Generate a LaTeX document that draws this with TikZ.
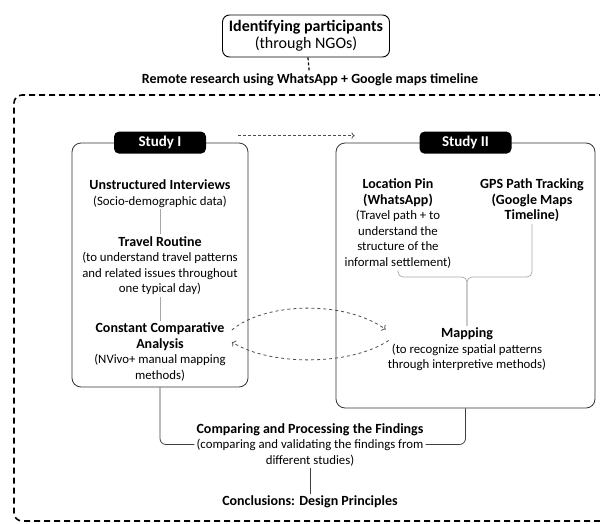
\documentclass[tikz,border=0pt]{standalone}
\usepackage{fontspec}
\setmainfont{Carlito}
\usetikzlibrary{arrows.meta,positioning,calc}
\newcommand{\ttl}[1]{{\fontsize{14}{15.5}\selectfont\bfseries #1}}

\begin{document}
\begin{tikzpicture}[x=1pt,y=-1pt,
    txt/.style={align=center, font=\fontsize{12.8}{15.5}\selectfont, inner sep=2pt},
    studybox/.style={draw=black!80, rounded corners=9pt, line width=0.8pt},
    badge/.style={fill=black, rounded corners=5pt, text=white, font=\fontsize{15}{17}\selectfont\bfseries, minimum width=92pt, minimum height=22pt},
    link/.style={draw=black!35, line width=0.7pt},
    flow/.style={draw=black!75, line width=0.8pt, rounded corners=6pt},
    swap/.style={dashed, draw=black!70, line width=0.8pt, ->}]
        \useasboundingbox (0,0) rectangle (600,523);

        % Outer frame: remote research
        \draw[line width=1.6pt, dash pattern=on 6pt off 4pt, rounded corners=8pt]
            (605,95) -- (14,95) -- (14,521) -- (605,521);

        % Start
        \node[txt, draw, rounded corners=7pt, line width=0.9pt, minimum width=167pt, minimum height=42pt,
              font=\fontsize{16}{17}\selectfont] (ident) at (306,36) {\textbf{Identifying participants}\\(through NGOs)};
        \node[txt, font=\fontsize{14}{15}\selectfont\bfseries] (remote) at (310,80) {Remote research using WhatsApp + Google maps timeline};
        \draw[line width=1.2pt, dash pattern=on 3pt off 2pt] (ident) -- (remote);

        % Study I
        \node[studybox, minimum width=176pt, minimum height=244pt] (study1) at (160,265) {};
        \node[badge] (badge1) at (study1.north) {Study I};
        \node[txt] (interviews) at (160,193.5) {\ttl{Unstructured Interviews}\\(Socio-demographic data)};
        \node[txt] (routine) at (160,265.5) {\ttl{Travel Routine}\\(to understand travel patterns\\and related issues throughout\\one typical day)};
        \node[txt] (constant) at (160,352) {\ttl{Constant Comparative}\\\ttl{Analysis}\\(NVivo+ manual mapping\\methods)};
        \draw[link] (interviews) -- (routine);
        \draw[link] (routine) -- (constant);

        % Study II
        \node[studybox, minimum width=259pt, minimum height=265pt] (study2) at (465.5,275.5) {};
        \node[badge] (badge2) at (study2.north) {Study II};
        \node[txt] (pin) at (398,223.5) {\ttl{Location Pin}\\\ttl{(WhatsApp)}\\(Travel path + to\\understand the\\structure of the\\informal settlement)};
        \node[txt] (gps) at (532,200.5) {\ttl{GPS Path Tracking}\\\ttl{(Google Maps}\\\ttl{Timeline)}};
        \node[txt] (mapping) at (467,349.5) {\ttl{Mapping}\\(to recognize spatial patterns\\through interpretive methods)};
        \coordinate (brace) at (mapping.north |- 0,277);
        \draw[link, rounded corners=5pt] (pin.south) |- (brace) -- (mapping.north);
        \draw[link, rounded corners=5pt] (gps.south) |- (brace) -- (mapping.north);

        % From study I to study II
        \draw[densely dashed, draw=black!70, line width=0.7pt, ->]
            ([xshift=-10pt,yshift=7pt]study1.north east) -- ([xshift=19pt,yshift=7pt]study2.north west);

        % Exchange between the analyses
        \draw[swap] ([xshift=4pt,yshift=22pt]constant.east) .. controls (265,302) and (345,300) .. ([xshift=0pt,yshift=20pt]mapping.west);
        \draw[swap] ([xshift=3pt,yshift=9pt]mapping.west) .. controls (350,366) and (270,366) .. ([xshift=4pt,yshift=10pt]constant.east);

        % Findings
        \node[txt] (compare) at (310,444.5) {\ttl{Comparing and Processing the Findings}\\(comparing and validating the findings from\\different studies)};
        \node[txt, font=\fontsize{14}{15}\selectfont\bfseries] (concl) at (310,502) {Conclusions: Design Principles};
        \draw[flow] (study1.south) |- (compare.west);
        \draw[flow] (study2.south) |- (compare.east);
        \draw[flow] (compare.south) -- (concl.north);
    \end{tikzpicture}
\end{document}
